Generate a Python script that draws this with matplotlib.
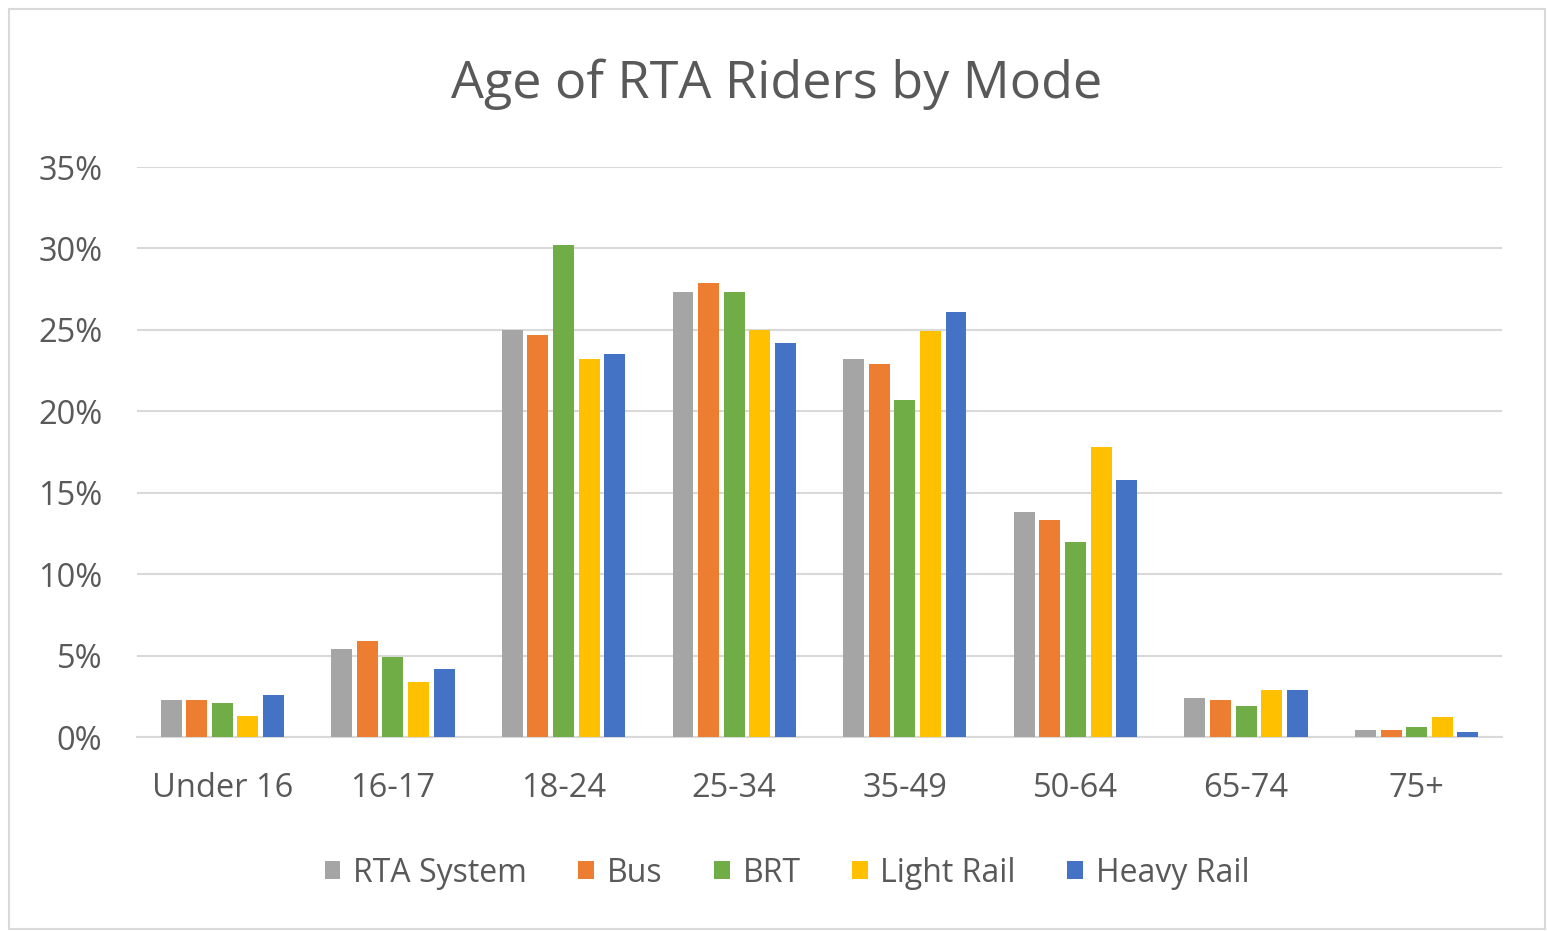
import numpy as np
import matplotlib.pyplot as plt
from matplotlib.patches import Rectangle
from matplotlib.ticker import FuncFormatter

# Dados
categorias = ["Under 16", "16-17", "18-24", "25-34", "35-49", "50-64", "65-74", "75+"]
rta_system = [2.3, 5.4, 25.0, 27.3, 23.2, 13.8, 2.4, 0.4]
bus        = [2.3, 5.9, 24.7, 27.9, 22.9, 13.3, 2.3, 0.4]
brt        = [2.1, 4.9, 30.2, 27.3, 20.7, 12.0, 1.9, 0.6]
light_rail = [1.3, 3.4, 23.2, 25.0, 24.9, 17.8, 2.9, 1.2]
heavy_rail = [2.6, 4.2, 23.5, 24.2, 26.1, 15.8, 2.9, 0.3]

series = {
    "RTA System": (rta_system, "#A5A5A5"),
    "Bus": (bus, "#ED7D31"),
    "BRT": (brt, "#70AD47"),
    "Light Rail": (light_rail, "#FFC000"),
    "Heavy Rail": (heavy_rail, "#4472C4"),
}

plt.rcParams["font.family"] = ["Open Sans", "DejaVu Sans"]
texto = "#595959"

fig = plt.figure(figsize=(15.47, 9.31), dpi=100)
ax = fig.add_axes([137 / 1547, 1 - 737 / 931, (1502 - 137) / 1547, (737 - 167) / 931])

x = np.arange(len(categorias))
largura = 0.123
passo = 0.15
for i, (nome, (valores, cor)) in enumerate(series.items()):
    ax.bar(x + (i - 2) * passo, valores, width=largura, color=cor, label=nome, zorder=3)

ax.set_xlim(-0.5, len(categorias) - 0.5)
ax.set_ylim(0, 35)
ax.set_yticks(range(0, 36, 5))
ax.yaxis.set_major_formatter(FuncFormatter(lambda v, p: f"{v:.0f}%"))
ax.set_xticks(x)
ax.set_xticklabels(categorias)
ax.grid(axis="y", color="#D9D9D9", linewidth=1.5, zorder=0)
for lado in ["top", "right", "left"]:
    ax.spines[lado].set_visible(False)
ax.spines["bottom"].set_color("#D9D9D9")
ax.spines["bottom"].set_linewidth(1.5)
ax.tick_params(axis="both", length=0, labelsize=23.5, colors=texto)
ax.tick_params(axis="y", pad=25)
ax.tick_params(axis="x", pad=25)

fig.text(0.502, 1 - 84 / 931, "Age of RTA Riders by Mode", ha="center", va="center",
         fontsize=37.5, color=texto)

fig.legend(loc="center", bbox_to_anchor=(787 / 1547, 1 - 873 / 931), ncol=5, frameon=False,
           fontsize=23, labelcolor=texto, handlelength=0.5, handleheight=0.5,
           handletextpad=0.4, columnspacing=1.6)

# Moldura do gráfico
fig.patches.append(Rectangle((9 / 1547, 2 / 931), 1536 / 1547, 920 / 931, transform=fig.transFigure,
                             fill=False, edgecolor="#D9D9D9", linewidth=1.5))

plt.savefig("out.png", dpi=100)
